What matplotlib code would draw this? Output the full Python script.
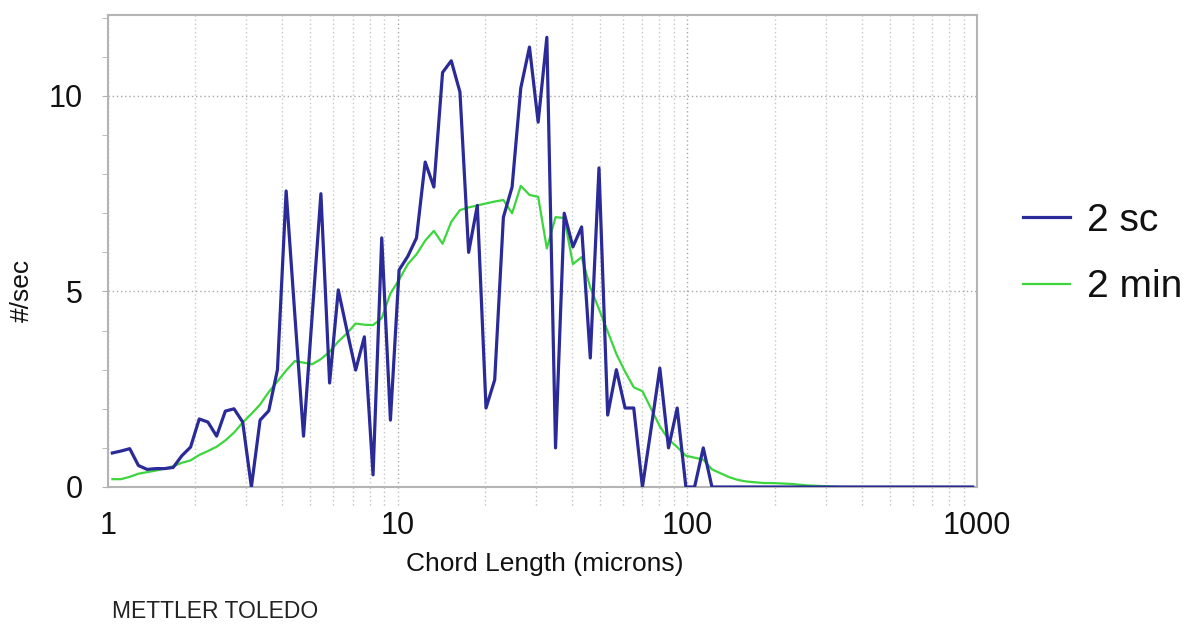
import numpy as np
import matplotlib
matplotlib.use("Agg")
import matplotlib.pyplot as plt
from matplotlib.ticker import FixedLocator, NullFormatter, MultipleLocator
import matplotlib.font_manager as fm

# ---------------- data ----------------
n_channels = 100
log_first_channel = 0.015
log_last_channel = 2.985
chord_um = np.logspace(log_first_channel, log_last_channel, n_channels)

counts_2sc = [
    0.87, 0.92, 0.98, 0.55, 0.45, 0.47, 0.47, 0.50, 0.80, 1.02,
    1.74, 1.66, 1.30, 1.94, 2.00, 1.66, 0.00, 1.71, 1.95, 3.00,
    7.57, 4.40, 1.30, 4.40, 7.50, 2.66, 5.04, 4.00, 2.99, 3.84,
    0.31, 6.37, 1.71, 5.55, 5.90, 6.37, 8.31, 7.67, 10.60, 10.90,
    10.10, 6.00, 7.20, 2.02, 2.74, 6.90, 7.67, 10.20, 11.25, 9.33,
    11.50, 1.00, 7.00, 6.14, 6.65, 3.30, 8.16, 1.84, 3.00, 2.02,
    2.02, 0.00, 1.50, 3.04, 1.00, 2.02, 0.00, 0.00, 1.00, 0.00,
    0.00, 0.00, 0.00, 0.00, 0.00, 0.00, 0.00, 0.00, 0.00, 0.00,
    0.00, 0.00, 0.00, 0.00, 0.00, 0.00, 0.00, 0.00, 0.00, 0.00,
    0.00, 0.00, 0.00, 0.00, 0.00, 0.00, 0.00, 0.00, 0.00, 0.00,
]

counts_2min = [
    0.20, 0.20, 0.26, 0.34, 0.38, 0.42, 0.47, 0.53, 0.62, 0.68,
    0.82, 0.92, 1.03, 1.19, 1.39, 1.65, 1.87, 2.11, 2.43, 2.70,
    2.98, 3.22, 3.18, 3.14, 3.27, 3.46, 3.72, 3.93, 4.18, 4.15,
    4.14, 4.32, 4.95, 5.30, 5.70, 5.95, 6.30, 6.55, 6.22, 6.78,
    7.08, 7.15, 7.20, 7.25, 7.30, 7.34, 7.00, 7.70, 7.47, 7.42,
    6.10, 6.90, 6.88, 5.70, 5.88, 5.10, 4.55, 3.98, 3.40, 2.95,
    2.55, 2.45, 2.00, 1.55, 1.22, 1.02, 0.80, 0.75, 0.70, 0.45,
    0.35, 0.25, 0.18, 0.14, 0.12, 0.10, 0.10, 0.09, 0.08, 0.06,
    0.04, 0.03, 0.02, 0.01, 0.00, 0.00, 0.00, 0.00, 0.00, 0.00,
    0.00, 0.00, 0.00, 0.00, 0.00, 0.00, 0.00, 0.00, 0.00, 0.00,
]

series_labels = ["2 sc", "2 min"]
x_ticks = [1, 10, 100, 1000]
x_tick_labels = ["1", "10", "100", "1000"]
y_ticks = [0, 5, 10]
y_tick_labels = ["0", "5", "10"]
x_label = "Chord Length (microns)"
y_label = "#/sec"
brand = "METTLER TOLEDO"

# ---------------- fonts ----------------
regular = ["Liberation Sans", "DejaVu Sans"]

# ---------------- figure ----------------
W, H, DPI = 1189, 624, 100
fig = plt.figure(figsize=(W / DPI, H / DPI), dpi=DPI)
ax = fig.add_axes([108 / W, 1 - 487 / H, (977 - 108) / W, (487 - 15) / H])

ax.set_xscale("log")
ax.set_xlim(1, 1000)
ax.set_ylim(0, 12.07)

ax.plot(chord_um, counts_2min, color="#3cd63c", lw=1.6, label=series_labels[1], zorder=3)
ax.plot(chord_um, counts_2sc, color="#2a2a98", lw=2.3, label=series_labels[0], zorder=4)

# ticks
ax.xaxis.set_major_locator(FixedLocator(x_ticks))
ax.set_xticklabels(x_tick_labels)
minor_x = [m * d for d in (1, 10, 100) for m in range(2, 10)]
ax.xaxis.set_minor_locator(FixedLocator(minor_x))
ax.xaxis.set_minor_formatter(NullFormatter())
ax.yaxis.set_major_locator(FixedLocator(y_ticks))
ax.set_yticklabels(y_tick_labels)
ax.yaxis.set_minor_locator(MultipleLocator(1))

ax.tick_params(axis="x", which="both", length=0, pad=17)
ax.tick_params(axis="y", which="both", length=4, color="#b0b0b0", pad=14, direction="out")
for lab in ax.get_xticklabels() + ax.get_yticklabels():
    lab.set_fontfamily(regular)
    lab.set_fontsize(22)
    lab.set_color("#111111")

# grid
ax.grid(True, which="major", axis="both", color="#a8a8a8", ls=(0, (1, 2)), lw=1.0)
ax.grid(True, which="minor", axis="x", color="#c8c8c8", ls=(0, (1, 2)), lw=1.0)
ax.set_axisbelow(True)

# gridline extensions below the x axis
xt = ax.get_xaxis_transform()
for xv in minor_x + x_ticks[1:-1]:
    ax.plot([xv, xv], [0, -0.04], transform=xt, color="#c0c0c0", ls=(0, (1, 2)),
            lw=1.0, clip_on=False, zorder=1)

for s in ax.spines.values():
    s.set_color("#b4b4b4")
    s.set_linewidth(1.5)

# labels
fig.text(545 / W, 1 - 564 / H, x_label, ha="center", va="center",
         fontsize=19, family=regular, color="#111111")
fig.text(22 / W, 1 - 290 / H, y_label, ha="center", va="center", rotation=90,
         fontsize=19, family=regular, color="#111111")
fig.text(112 / W, 1 - 612 / H, brand, ha="left", va="center",
         fontsize=16.5, family=regular, color="#222222")

# legend
handles, labels = ax.get_legend_handles_labels()
order = [1, 0]
leg = fig.legend([handles[i] for i in order], [labels[i] for i in order],
                 loc="center left", bbox_to_anchor=(988 / W, 1 - 254 / H),
                 frameon=False, prop=fm.FontProperties(family=regular, size=28),
                 handlelength=1.2, handletextpad=0.45, labelspacing=0.78)
for t in leg.get_texts():
    t.set_color("#111111")

fig.savefig("out.png", dpi=DPI)
